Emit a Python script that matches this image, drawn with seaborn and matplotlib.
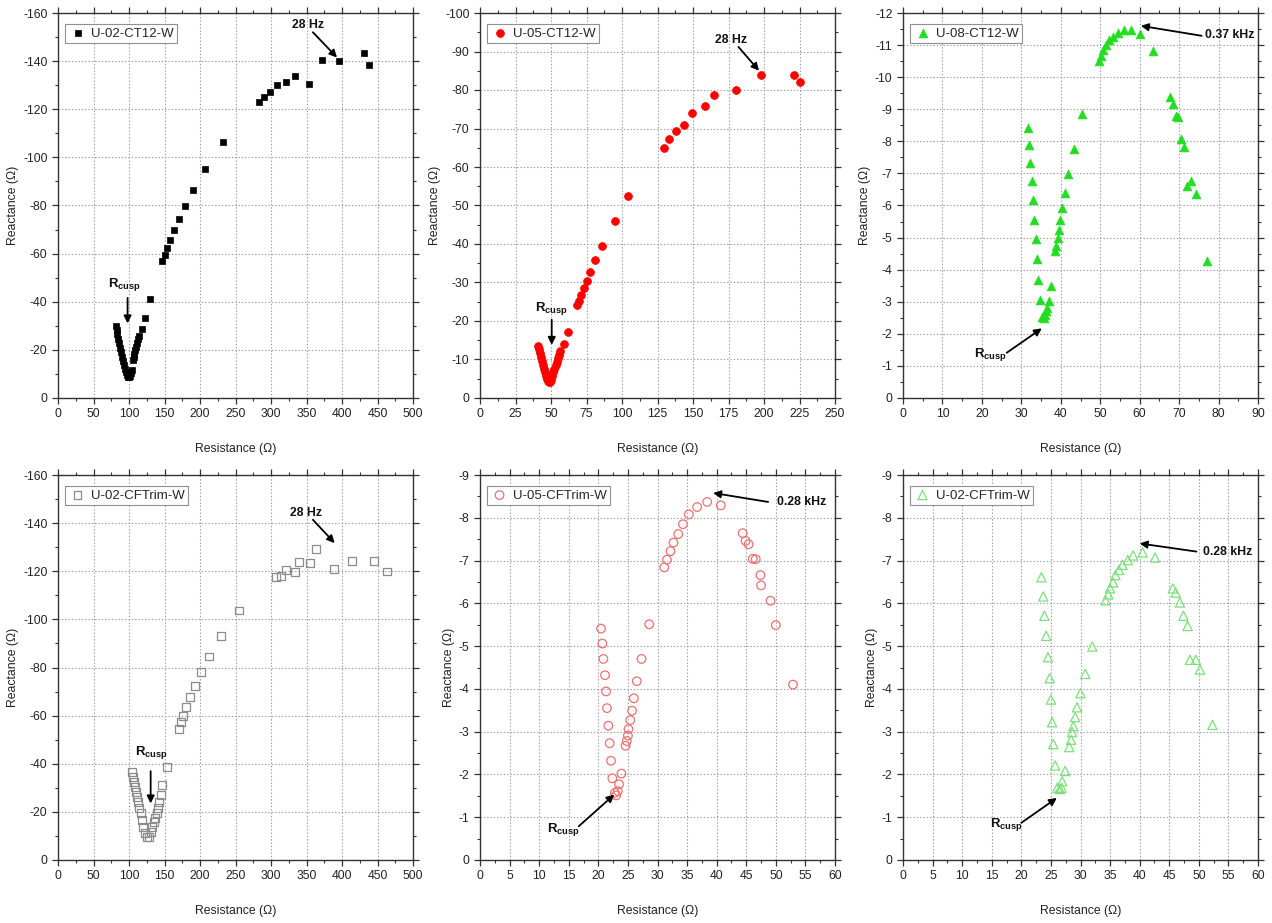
import numpy as np
import pandas as pd
import matplotlib
matplotlib.use("Agg")
import matplotlib.pyplot as plt
import seaborn as sns
from matplotlib.ticker import MultipleLocator

# ---------------- data ----------------
# Panel 1: U-02-CT12-W
p1_x = [81.5, 82.5, 83.5, 84.6, 85.8, 87.0, 88.3, 89.6, 91.0, 92.4, 93.8, 95.2, 96.6, 98.0, 99.5,
        101.0, 102.5, 104.0, 105.5, 106.5, 107.6, 108.8, 110.0, 111.3, 112.6, 114.0, 117.8, 122.0,
        129.5, 146.5, 150.0, 153.5, 158.0, 163.0, 170.4, 179.0, 190.0, 206.6, 232.0, 282.6, 290.0,
        298.6, 308.5, 321.0, 333.8, 353.0, 371.4, 395.3, 431.0, 438.0]
p1_y = [-29.8, -28.2, -26.5, -24.7, -22.8, -20.9, -19.0, -17.1, -15.3, -13.6, -12.0, -10.6, -9.5,
        -8.8, -8.6, -9.0, -10.2, -11.8, -15.8, -17.0, -18.4, -19.9, -21.4, -23.0, -24.5, -25.8,
        -28.5, -33.2, -41.0, -56.8, -59.3, -62.3, -65.8, -69.7, -74.4, -79.8, -86.4, -95.0, -106.4,
        -123.0, -125.0, -127.1, -129.9, -131.3, -133.8, -130.7, -140.6, -140.2, -143.5, -138.2]

# Panel 2: U-05-CT12-W
p2_x = [40.8, 41.5, 42.2, 42.9, 43.6, 44.3, 45.0, 45.7, 46.4, 47.1, 47.8, 48.5, 49.3, 50.0, 50.8,
        51.6, 52.4, 53.2, 54.0, 54.8, 55.7, 56.6, 58.9, 62.0, 68.5, 69.7, 71.1, 73.2, 75.1, 77.7,
        81.2, 85.9, 95.3, 104.2, 129.3, 133.3, 138.3, 143.9, 149.5, 158.2, 164.6, 180.3, 197.7,
        220.9, 225.6]
p2_y = [-13.6, -12.6, -11.6, -10.6, -9.6, -8.6, -7.6, -6.7, -5.8, -5.0, -4.4, -4.1, -4.2, -4.8,
        -5.7, -6.7, -7.6, -8.5, -9.4, -10.3, -11.2, -12.1, -13.9, -17.1, -24.2, -25.3, -26.7,
        -28.5, -30.5, -32.7, -35.8, -39.6, -45.9, -52.5, -65.0, -67.2, -69.4, -71.0, -73.9, -75.9,
        -78.7, -79.9, -83.8, -83.8, -82.1]

# Panel 3: U-08-CT12-W
p3_x = [31.7, 32.0, 32.3, 32.6, 32.9, 33.3, 33.6, 34.0, 34.3, 34.7, 35.2, 35.7, 35.9, 36.2, 36.4,
        36.9, 37.4, 38.6, 38.9, 39.2, 39.5, 39.8, 40.4, 41.1, 41.9, 43.3, 45.4, 49.7, 50.1, 50.7,
        51.4, 52.2, 53.3, 54.4, 56.1, 57.9, 60.2, 63.4, 67.8, 68.5, 69.1, 69.8, 70.6, 71.3, 71.9,
        73.1, 74.2, 77.1]
p3_y = [-8.42, -7.88, -7.32, -6.75, -6.16, -5.56, -4.96, -4.33, -3.69, -3.04, -2.52, -2.49, -2.60,
        -2.70, -2.80, -3.03, -3.50, -4.57, -4.75, -5.00, -5.25, -5.56, -5.92, -6.39, -6.99, -7.77,
        -8.86, -10.49, -10.65, -10.84, -11.01, -11.17, -11.25, -11.38, -11.46, -11.48, -11.33,
        -10.81, -9.38, -9.17, -8.80, -8.76, -8.07, -7.81, -6.60, -6.77, -6.37, -4.28]

# Panel 4: U-02-CFTrim-W
p4_x = [103.8, 105.2, 107.0, 108.5, 109.9, 111.7, 113.1, 114.5, 116.5, 118.3, 120.2, 123.0, 125.8,
        128.6, 130.5, 132.8, 135.2, 137.0, 139.0, 140.8, 142.7, 145.0, 146.9, 153.5, 170.0, 172.8,
        176.1, 180.8, 185.4, 192.5, 201.4, 212.2, 229.1, 254.9, 307.0, 313.6, 321.6, 333.3, 340.0,
        355.4, 362.9, 388.7, 413.6, 445.5, 463.4]
p4_y = [-36.6, -34.6, -32.5, -30.4, -28.3, -26.3, -24.2, -21.7, -19.4, -16.6, -13.8, -11.1, -9.7,
        -9.7, -11.5, -13.8, -15.9, -17.6, -19.4, -21.5, -24.2, -27.0, -31.1, -38.7, -54.5, -57.3,
        -60.0, -63.6, -67.6, -72.2, -78.1, -84.6, -93.1, -103.7, -117.6, -118.0, -120.5, -119.8,
        -123.7, -123.4, -129.2, -121.0, -124.1, -124.2, -119.9]

# Panel 5: U-05-CFTrim-W
p5_x = [20.45, 20.68, 20.85, 21.13, 21.30, 21.46, 21.69, 21.92, 22.14, 22.37, 22.80, 23.00, 23.30,
        23.50, 23.90, 24.60, 24.80, 25.00, 25.10, 25.40, 25.70, 26.00, 26.50, 27.30, 28.60, 31.15,
        31.60, 32.20, 32.70, 33.50, 34.30, 35.30, 36.70, 38.40, 40.70, 44.40, 44.90, 45.40, 46.10,
        46.60, 47.40, 47.50, 49.10, 50.00, 52.90]
p5_y = [-5.41, -5.06, -4.70, -4.32, -3.94, -3.55, -3.14, -2.73, -2.32, -1.91, -1.57, -1.51, -1.61,
        -1.77, -2.02, -2.67, -2.78, -2.91, -3.06, -3.27, -3.49, -3.78, -4.18, -4.70, -5.51, -6.84,
        -7.02, -7.22, -7.42, -7.62, -7.85, -8.08, -8.25, -8.37, -8.29, -7.64, -7.46, -7.38, -7.04,
        -7.03, -6.66, -6.42, -6.06, -5.49, -4.10]

# Panel 6: U-02-CFTrim-W (green)
p6_x = [23.4, 23.7, 23.9, 24.2, 24.5, 24.8, 25.0, 25.2, 25.4, 25.7, 26.1, 26.5, 26.8, 26.9, 27.4,
        28.1, 28.4, 28.6, 28.8, 29.1, 29.4, 30.0, 30.8, 32.0, 34.25, 34.7, 35.0, 35.5, 35.9, 36.5,
        37.1, 38.0, 38.9, 40.5, 42.6, 45.6, 46.1, 46.8, 47.4, 48.1, 48.5, 49.5, 50.2, 52.3]
p6_y = [-6.61, -6.16, -5.71, -5.24, -4.74, -4.25, -3.75, -3.22, -2.71, -2.21, -1.69, -1.66, -1.69,
        -1.84, -2.08, -2.64, -2.81, -2.99, -3.13, -3.34, -3.57, -3.90, -4.35, -4.99, -6.07, -6.21,
        -6.35, -6.49, -6.66, -6.78, -6.90, -7.01, -7.12, -7.19, -7.07, -6.35, -6.25, -6.02, -5.71,
        -5.47, -4.68, -4.68, -4.45, -3.16]

labels = ["U-02-CT12-W", "U-05-CT12-W", "U-08-CT12-W",
          "U-02-CFTrim-W", "U-05-CFTrim-W", "U-02-CFTrim-W"]
xmax = [500, 250, 90, 500, 60, 60]
xstep = [50, 25, 10, 50, 5, 5]
ymin = [-160, -100, -12, -160, -9, -9]
ystep = [20, 10, 1, 20, 1, 1]

# annotation: (text, text_xy, arrow_tail, arrow_head)
freq_ann = [("28 Hz", (352, -155), (359, -152), (393, -141.5)),
            ("28 Hz", (177, -93), (182, -91.2), (196.5, -85.0)),
            ("0.37 kHz", (82.9, -11.32), (75.7, -11.29), (60.3, -11.6)),
            ("28 Hz", (350, -144.4), (359, -141.4), (389.7, -131.7)),
            ("0.28 kHz", (54.4, -8.37), (48.7, -8.37), (39.4, -8.58)),
            ("0.28 kHz", (54.9, -7.21), (49.6, -7.21), (40.0, -7.40))]
cusp_ann = [((94, -47), (98, -41.6), (98, -31.0)),
            ((50, -23.3), (50.5, -20.3), (50.5, -13.8)),
            ((22.1, -1.37), (26.3, -1.41), (35.2, -2.17)),
            ((131.5, -44.5), (130.5, -36.9), (130.5, -23.5)),
            ((14.1, -0.72), (16.7, -0.79), (22.7, -1.53)),
            ((17.5, -0.83), (20.0, -0.87), (26.0, -1.45))]

# ---------------- styling ----------------
sns.set_style("white")
plt.rcParams['font.family'] = ['Liberation Sans', 'DejaVu Sans']
plt.rcParams['axes.unicode_minus'] = False
plt.rcParams['mathtext.fontset'] = 'custom'
plt.rcParams['mathtext.rm'] = 'Liberation Sans'
plt.rcParams['mathtext.bf'] = 'Liberation Sans:bold'
plt.rcParams['mathtext.it'] = 'Liberation Sans:italic'

# (marker, size, edge colour, filled?)
marker_specs = [
    ("s", 24, "#000000", True),
    ("o", 32, "#FF0000", True),
    ("^", 40, "#22DD22", True),
    ("s", 32, "#8C8C8C", False),
    ("o", 38, "#F07070", False),
    ("^", 44, "#7BE07B", False),
]

xs = [p1_x, p2_x, p3_x, p4_x, p5_x, p6_x]
ys = [p1_y, p2_y, p3_y, p4_y, p5_y, p6_y]

W, H = 1272, 923
fig = plt.figure(figsize=(W / 100, H / 100), dpi=100)
lefts = [58, 480, 903]
tops = [13, 475]
aw, ah = 355, 385

for i in range(6):
    r, c = divmod(i, 3)
    ax = fig.add_axes([lefts[c] / W, 1 - (tops[r] + ah) / H, aw / W, ah / H])
    df = pd.DataFrame({"Resistance": xs[i], "Reactance": ys[i]})
    mk, sz, col, filled = marker_specs[i]
    sns.scatterplot(data=df, x="Resistance", y="Reactance", ax=ax, marker=mk, s=sz,
                    color=col, edgecolor=col, linewidth=0.5 if filled else 0.9,
                    label=labels[i], zorder=3, legend=False)
    coll = ax.collections[-1]
    if not filled:
        coll.set_facecolor("none")
        coll.set_edgecolor(col)
    ax.set_xlim(0, xmax[i])
    ax.set_ylim(0, ymin[i])
    ax.xaxis.set_major_locator(MultipleLocator(xstep[i]))
    ax.xaxis.set_minor_locator(MultipleLocator(xstep[i] / 2))
    ax.yaxis.set_major_locator(MultipleLocator(ystep[i]))
    ax.yaxis.set_minor_locator(MultipleLocator(ystep[i] / 2))
    ax.grid(True, which="major", color="#9A9A9A", linestyle=(0, (1.2, 1.8)), linewidth=0.8)
    ax.set_axisbelow(True)
    for sp in ax.spines.values():
        sp.set_color("#333333")
        sp.set_linewidth(1.0)
    ax.tick_params(axis="both", which="both", bottom=True, left=True, top=True, right=True,
                   direction="out", color="#333333", labelsize=8.7, labelcolor="#222222")
    ax.tick_params(which="major", length=4, width=0.9)
    ax.tick_params(which="minor", length=2.3, width=0.8)
    ax.set_xlabel("Resistance (Ω)", fontsize=8.8, labelpad=16, color="#222222")
    ax.set_ylabel("Reactance (Ω)", fontsize=8.8, labelpad=3, color="#222222")

    # legend
    leg = ax.legend(handles=[coll], labels=[labels[i]], loc="upper left",
                    bbox_to_anchor=(7 / aw, 1 - 11 / ah), borderaxespad=0,
                    fontsize=9.5, frameon=True, fancybox=False, framealpha=1,
                    edgecolor="#909090", borderpad=0.25, handletextpad=0.3,
                    handlelength=1.4, scatterpoints=1)
    leg.get_frame().set_linewidth(0.8)

    # annotations
    t, txy, tail, head = freq_ann[i]
    ax.text(txy[0], txy[1], t, fontsize=8.8, fontweight="bold", ha="center", va="center",
            color="#111111", zorder=5)
    ax.annotate("", xy=head, xytext=tail,
                arrowprops=dict(arrowstyle="-|>", color="black", lw=1.3, mutation_scale=11,
                                shrinkA=0, shrinkB=0), zorder=5)
    ctxt, ctail, chead = cusp_ann[i]
    ax.text(ctxt[0], ctxt[1], r"$\mathbf{R}_{\mathbf{cusp}}$", fontsize=9.5, ha="center",
            va="center", color="#111111", zorder=5)
    ax.annotate("", xy=chead, xytext=ctail,
                arrowprops=dict(arrowstyle="-|>", color="black", lw=1.3, mutation_scale=11,
                                shrinkA=0, shrinkB=0), zorder=5)

fig.savefig("out.png", dpi=100, facecolor="white")
